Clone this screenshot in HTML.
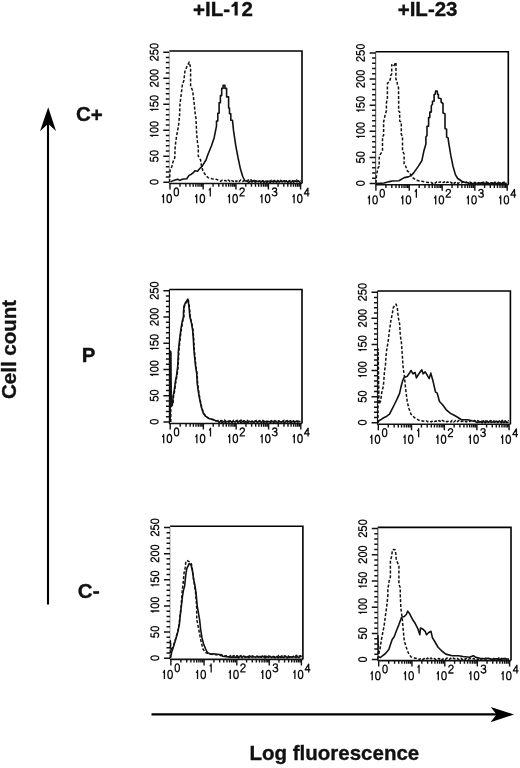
<!DOCTYPE html>
<html><head><meta charset="utf-8"><style>html,body{margin:0;padding:0;background:#fff;width:520px;height:768px;overflow:hidden}svg{display:block;will-change:transform}</style></head>
<body>
<svg width="520" height="768" viewBox="0 0 520 768">
<style>
text{font-family:"Liberation Sans", sans-serif;fill:#111}
.gl{fill:none;stroke:#111;stroke-width:1.32px;stroke-linejoin:round}
.yl{font-size:12.8px;letter-spacing:-0.9px;stroke:#111;stroke-width:0.2px}
.xl{font-size:13.3px;letter-spacing:-1.8px;stroke:#111;stroke-width:0.1px}
.hd{font-size:20.5px;font-weight:bold;stroke:#111;stroke-width:0.35px}
.rl{font-size:20.5px;font-weight:bold;stroke:#111;stroke-width:0.35px}
</style>
<rect width="520" height="768" fill="#fff"/>
<text x="193" y="16" class="hd"><tspan dy="1.3">+</tspan><tspan dy="-1.3">IL-<tspan fill="transparent" stroke="none">1</tspan>2</tspan></text>
<path d="M234.6 1.7H237.7V15.5H234.6V6.1C233.7 6.7 232.6 7.1 231.5 7.3V4.9C232.9 4.5 234 3.4 234.6 1.7Z" fill="#111"/>
<text x="397.7" y="16" class="hd"><tspan dy="1.3">+</tspan><tspan dy="-1.3">IL-23</tspan></text>
<text x="76" y="121" class="rl">C<tspan dy="1.4">+</tspan></text>
<text x="81.8" y="362" class="rl">P</text>
<text x="77.8" y="598.3" class="rl">C</text>
<rect x="93.2" y="591.2" width="5.9" height="2.6" fill="#111"/>
<text transform="translate(15.5,399) rotate(-90)" class="rl">Cell count</text>
<text x="249.5" y="760.3" class="rl">Log fluorescence</text>
<path d="M48 604.5V122" stroke="#000" stroke-width="2.1" fill="none"/>
<path d="M48.2 107.3L56 131L48.2 123.8L40 131.2Z" fill="#000"/>
<path d="M151.5 714.4H498" stroke="#000" stroke-width="2.2" fill="none"/>
<path d="M514 714.5L490.5 722.3L496.5 714.4L490.8 706.9Z" fill="#000"/>
<path d="M169.3 51H302V183.5" fill="none" stroke="#000" stroke-width="1.6"/>
<path d="M169.3 51V184" fill="none" stroke="#b0b0b0" stroke-width="1.2"/>
<path d="M169.3 183.5H302" fill="none" stroke="#111" stroke-width="1.6"/>
<path d="M163.3 182.3H169.3M165.8 177.1H169.3M165.8 171.89H169.3M165.8 166.69H169.3M165.8 161.48H169.3M163.3 156.28H169.3M165.8 151.08H169.3M165.8 145.87H169.3M165.8 140.67H169.3M165.8 135.46H169.3M163.3 130.26H169.3M165.8 125.06H169.3M165.8 119.85H169.3M165.8 114.65H169.3M165.8 109.44H169.3M163.3 104.24H169.3M165.8 99.04H169.3M165.8 93.83H169.3M165.8 88.63H169.3M165.8 83.42H169.3M163.3 78.22H169.3M165.8 73.02H169.3M165.8 67.81H169.3M165.8 62.61H169.3M165.8 57.4H169.3M163.3 52.2H169.3" stroke="#111" stroke-width="1.5"/>
<path d="M170 183.5v6M179.99 183.5v3.2M185.83 183.5v3.2M189.97 183.5v3.2M193.19 183.5v3.2M195.81 183.5v3.2M198.04 183.5v3.2M199.96 183.5v3.2M201.66 183.5v3.2M203.17 183.5v6M213.04 183.5v3.2M218.81 183.5v3.2M222.91 183.5v3.2M226.08 183.5v3.2M228.68 183.5v3.2M230.87 183.5v3.2M232.77 183.5v3.2M234.45 183.5v3.2M235.95 183.5v6M245.73 183.5v3.2M251.44 183.5v3.2M255.5 183.5v3.2M258.65 183.5v3.2M261.22 183.5v3.2M263.39 183.5v3.2M265.28 183.5v3.2M266.94 183.5v3.2M268.42 183.5v6M278.11 183.5v3.2M283.78 183.5v3.2M287.8 183.5v3.2M290.91 183.5v3.2M293.46 183.5v3.2M295.62 183.5v3.2M297.48 183.5v3.2M299.13 183.5v3.2M300.6 183.5v6" stroke="#111" stroke-width="1.4"/>
<g transform="translate(149.7,182.3) rotate(-90)" class="gl"><path transform="translate(-2.93,0) scale(0.955)" d="M3.3 0.62C2.05 0.62 1.1 2.1 1.1 4.65S2.05 8.68 3.3 8.68 5.5 7.2 5.5 4.65 4.55 0.62 3.3 0.62Z"/></g>
<g transform="translate(149.7,156.28) rotate(-90)" class="gl"><path transform="translate(-5.96,0) scale(0.955)" d="M5.1 0.62H1.55L1.05 4.5C1.6 3.9 2.35 3.65 3.05 3.65 4.55 3.65 5.45 4.65 5.45 6.15 5.45 7.7 4.45 8.68 2.95 8.68 1.65 8.68 0.85 8 0.55 6.9"/><path transform="translate(0.1,0) scale(0.955)" d="M3.3 0.62C2.05 0.62 1.1 2.1 1.1 4.65S2.05 8.68 3.3 8.68 5.5 7.2 5.5 4.65 4.55 0.62 3.3 0.62Z"/></g>
<g transform="translate(149.7,130.26) rotate(-90)" class="gl"><path transform="translate(-9,0) scale(0.955)" d="M2.5 2.9C3.4 2.6 4 1.9 4.1 0.65V9.3"/><path transform="translate(-2.93,0) scale(0.955)" d="M3.3 0.62C2.05 0.62 1.1 2.1 1.1 4.65S2.05 8.68 3.3 8.68 5.5 7.2 5.5 4.65 4.55 0.62 3.3 0.62Z"/><path transform="translate(3.13,0) scale(0.955)" d="M3.3 0.62C2.05 0.62 1.1 2.1 1.1 4.65S2.05 8.68 3.3 8.68 5.5 7.2 5.5 4.65 4.55 0.62 3.3 0.62Z"/></g>
<g transform="translate(149.7,104.24) rotate(-90)" class="gl"><path transform="translate(-9,0) scale(0.955)" d="M2.5 2.9C3.4 2.6 4 1.9 4.1 0.65V9.3"/><path transform="translate(-2.93,0) scale(0.955)" d="M5.1 0.62H1.55L1.05 4.5C1.6 3.9 2.35 3.65 3.05 3.65 4.55 3.65 5.45 4.65 5.45 6.15 5.45 7.7 4.45 8.68 2.95 8.68 1.65 8.68 0.85 8 0.55 6.9"/><path transform="translate(3.13,0) scale(0.955)" d="M3.3 0.62C2.05 0.62 1.1 2.1 1.1 4.65S2.05 8.68 3.3 8.68 5.5 7.2 5.5 4.65 4.55 0.62 3.3 0.62Z"/></g>
<g transform="translate(149.7,78.22) rotate(-90)" class="gl"><path transform="translate(-9,0) scale(0.955)" d="M0.95 3C0.95 1.35 1.95 0.62 3.1 0.62 4.4 0.62 5.3 1.5 5.3 2.7 5.3 5 0.95 5.8 0.85 8.68H5.75"/><path transform="translate(-2.93,0) scale(0.955)" d="M3.3 0.62C2.05 0.62 1.1 2.1 1.1 4.65S2.05 8.68 3.3 8.68 5.5 7.2 5.5 4.65 4.55 0.62 3.3 0.62Z"/><path transform="translate(3.13,0) scale(0.955)" d="M3.3 0.62C2.05 0.62 1.1 2.1 1.1 4.65S2.05 8.68 3.3 8.68 5.5 7.2 5.5 4.65 4.55 0.62 3.3 0.62Z"/></g>
<g transform="translate(149.7,52.2) rotate(-90)" class="gl"><path transform="translate(-9,0) scale(0.955)" d="M0.95 3C0.95 1.35 1.95 0.62 3.1 0.62 4.4 0.62 5.3 1.5 5.3 2.7 5.3 5 0.95 5.8 0.85 8.68H5.75"/><path transform="translate(-2.93,0) scale(0.955)" d="M5.1 0.62H1.55L1.05 4.5C1.6 3.9 2.35 3.65 3.05 3.65 4.55 3.65 5.45 4.65 5.45 6.15 5.45 7.7 4.45 8.68 2.95 8.68 1.65 8.68 0.85 8 0.55 6.9"/><path transform="translate(3.13,0) scale(0.955)" d="M3.3 0.62C2.05 0.62 1.1 2.1 1.1 4.65S2.05 8.68 3.3 8.68 5.5 7.2 5.5 4.65 4.55 0.62 3.3 0.62Z"/></g>
<g class="gl"><path transform="translate(159.4,193.9) scale(1.0)" d="M2.5 2.9C3.4 2.6 4 1.9 4.1 0.65V9.3"/><path transform="translate(165.9,193.9) scale(1.0)" d="M3.3 0.62C2.05 0.62 1.1 2.1 1.1 4.65S2.05 8.68 3.3 8.68 5.5 7.2 5.5 4.65 4.55 0.62 3.3 0.62Z"/><path transform="translate(173.1,187.4) scale(0.98)" d="M3.3 0.62C2.05 0.62 1.1 2.1 1.1 4.65S2.05 8.68 3.3 8.68 5.5 7.2 5.5 4.65 4.55 0.62 3.3 0.62Z"/></g>
<g class="gl"><path transform="translate(192.57,193.9) scale(1.0)" d="M2.5 2.9C3.4 2.6 4 1.9 4.1 0.65V9.3"/><path transform="translate(199.07,193.9) scale(1.0)" d="M3.3 0.62C2.05 0.62 1.1 2.1 1.1 4.65S2.05 8.68 3.3 8.68 5.5 7.2 5.5 4.65 4.55 0.62 3.3 0.62Z"/><path transform="translate(206.27,187.4) scale(0.98)" d="M2.5 2.9C3.4 2.6 4 1.9 4.1 0.65V9.3"/></g>
<g class="gl"><path transform="translate(225.35,193.9) scale(1.0)" d="M2.5 2.9C3.4 2.6 4 1.9 4.1 0.65V9.3"/><path transform="translate(231.85,193.9) scale(1.0)" d="M3.3 0.62C2.05 0.62 1.1 2.1 1.1 4.65S2.05 8.68 3.3 8.68 5.5 7.2 5.5 4.65 4.55 0.62 3.3 0.62Z"/><path transform="translate(239.05,187.4) scale(0.98)" d="M0.95 3C0.95 1.35 1.95 0.62 3.1 0.62 4.4 0.62 5.3 1.5 5.3 2.7 5.3 5 0.95 5.8 0.85 8.68H5.75"/></g>
<g class="gl"><path transform="translate(257.82,193.9) scale(1.0)" d="M2.5 2.9C3.4 2.6 4 1.9 4.1 0.65V9.3"/><path transform="translate(264.32,193.9) scale(1.0)" d="M3.3 0.62C2.05 0.62 1.1 2.1 1.1 4.65S2.05 8.68 3.3 8.68 5.5 7.2 5.5 4.65 4.55 0.62 3.3 0.62Z"/><path transform="translate(271.52,187.4) scale(0.98)" d="M0.85 2.55C1.05 1.25 1.95 0.62 3.05 0.62 4.35 0.62 5.15 1.4 5.15 2.5 5.15 3.7 4.25 4.4 2.65 4.4 4.45 4.4 5.45 5.3 5.45 6.6 5.45 8 4.35 8.68 3.05 8.68 1.65 8.68 0.75 8 0.55 6.75"/></g>
<g class="gl"><path transform="translate(290,193.9) scale(1.0)" d="M2.5 2.9C3.4 2.6 4 1.9 4.1 0.65V9.3"/><path transform="translate(296.5,193.9) scale(1.0)" d="M3.3 0.62C2.05 0.62 1.1 2.1 1.1 4.65S2.05 8.68 3.3 8.68 5.5 7.2 5.5 4.65 4.55 0.62 3.3 0.62Z"/><path transform="translate(303.7,187.4) scale(0.98)" d="M4.3 9.3V0.75L0.6 6.6H5.95"/></g>
<path d="M169.6 182 169.8 175 170.2 169.2 171.8 166.9 172.9 162.3 174.8 157.7 175.1 147.7 176 140 177 133.8 178.5 125.8 179.6 115 180 103.8 181.2 94.4 182.5 83.6 183.8 81 184.9 71.5 186.5 67.5 189.2 62.1 190.6 67.5 190.6 86.3 192.6 90.4 193.9 101.1 195.3 114.6 196 118.6 196.6 132.5 197.2 140 198.3 147.7 198.3 156.2 200.6 160 201.4 165.4 202.9 170.8 205.2 174.6 208 177.6 212 178.8 216.1 179.3 219 180.4 220.6 181.3 222.3 180.2 223.5 181 225.4 180.4 226.8 181.7 228.4 180 229.9 181.4 231.2 180.2 233.2 181.4 235 180.1 236.2 181.5 237.9 180.4 239 181.6 240.6 180.1 242.5 181.5 244.6 180.3 246.4 181.3 248.5 180 249.7 181.1 251 179.9 252.5 181.4 253.9 180.2 255.4 181.2 257.1 180.2 259.1 181.5 261.1 180 263.2 181.5 264.5 180 266.5 181.6 268.2 180.1 269.5 181.6 271.2 180.4 272.4 181.6 274.4 180.5 276.3 181.3 277.6 180.4 279.4 181.6 280.6 180.2 281.8 181.5 283.2 180 285.3 181.4 287.3 180.4 288.5 181.4 289.7 180.5 291.2 181.4 292.5 180.6 294.4 181.2 296.5 180 297.9 181.3 299.6 180.1 300.5 180.8" fill="none" stroke="#111" stroke-width="1.5" stroke-dasharray="3 1.8" stroke-linejoin="round"/>
<path d="M170.6 181.9 173.7 180.4 177.5 179.2 179.8 180.4 182.2 179.2 186.8 178.8 189 175.4 191.4 174.2 193.7 172.3 194.8 170.8 197.5 171.2 199.8 168.5 202.2 166.2 204.5 162.3 206 160 208.1 154 211.4 146 214.1 137.9 216.5 126.2 216.5 121 217.8 121 217.8 113.2 219.1 113.2 219.1 102.7 220.4 102.7 220.4 95.6 221.7 95.6 221.7 88.4 223.1 88.4 223.1 85.2 224.9 85.2 224.9 88.4 226.6 88.4 226.6 96.9 228.6 96.9 228.6 108 229.5 108 229.5 113.8 230.8 113.8 230.8 120.3 232.5 120.3 233.5 130.4 235.8 145.8 238.1 158 240.4 168.8 242.7 176.5 245 181 247 181 248.7 182.5 250.3 181.1 252.1 182 253.5 180.7 255.2 182.2 256.3 181.1 258 181.8 259.7 181 260.9 182.2 262.4 180.9 263.9 182.3 265.7 181.4 266.9 182.3 268.9 181.2 270.5 182.2 271.9 181.1 273.3 182.1 275 181.2 276.5 182.3 277.7 181 279.5 182 280.8 180.8 282.2 181.9 283.7 180.9 284.9 182 286.4 180.8 287.9 182.4 289.2 181.2 290.9 182.4 292.5 181.2 293.7 182.2 295 180.8 297 181.9 298.3 180.8 300.1 182.4 300.5 181.6" fill="none" stroke="#111" stroke-width="1.6" stroke-linejoin="round"/>
<path d="M375.6 51.7H508.3V184.8" fill="none" stroke="#000" stroke-width="1.6"/>
<path d="M375.6 51.7V185.3" fill="none" stroke="#666" stroke-width="1.2"/>
<path d="M375.6 184.8H508.3" fill="none" stroke="#111" stroke-width="1.6"/>
<path d="M369.6 183.5H375.6M372.1 178.28H375.6M372.1 173.05H375.6M372.1 167.83H375.6M372.1 162.6H375.6M369.6 157.38H375.6M372.1 152.16H375.6M372.1 146.93H375.6M372.1 141.71H375.6M372.1 136.48H375.6M369.6 131.26H375.6M372.1 126.04H375.6M372.1 120.81H375.6M372.1 115.59H375.6M372.1 110.36H375.6M369.6 105.14H375.6M372.1 99.92H375.6M372.1 94.69H375.6M372.1 89.47H375.6M372.1 84.24H375.6M369.6 79.02H375.6M372.1 73.8H375.6M372.1 68.57H375.6M372.1 63.35H375.6M372.1 58.12H375.6M369.6 52.9H375.6" stroke="#111" stroke-width="1.5"/>
<path d="M375.9 184.8v6M385.94 184.8v3.2M391.81 184.8v3.2M395.98 184.8v3.2M399.21 184.8v3.2M401.85 184.8v3.2M404.09 184.8v3.2M406.02 184.8v3.2M407.73 184.8v3.2M409.25 184.8v6M419.17 184.8v3.2M424.97 184.8v3.2M429.09 184.8v3.2M432.28 184.8v3.2M434.89 184.8v3.2M437.1 184.8v3.2M439.01 184.8v3.2M440.7 184.8v3.2M442.2 184.8v6M452.03 184.8v3.2M457.78 184.8v3.2M461.86 184.8v3.2M465.02 184.8v3.2M467.61 184.8v3.2M469.79 184.8v3.2M471.69 184.8v3.2M473.36 184.8v3.2M474.85 184.8v6M484.59 184.8v3.2M490.29 184.8v3.2M494.33 184.8v3.2M497.46 184.8v3.2M500.02 184.8v3.2M502.19 184.8v3.2M504.07 184.8v3.2M505.72 184.8v3.2M507.2 184.8v6" stroke="#111" stroke-width="1.4"/>
<g transform="translate(356,183.5) rotate(-90)" class="gl"><path transform="translate(-2.93,0) scale(0.955)" d="M3.3 0.62C2.05 0.62 1.1 2.1 1.1 4.65S2.05 8.68 3.3 8.68 5.5 7.2 5.5 4.65 4.55 0.62 3.3 0.62Z"/></g>
<g transform="translate(356,157.38) rotate(-90)" class="gl"><path transform="translate(-5.96,0) scale(0.955)" d="M5.1 0.62H1.55L1.05 4.5C1.6 3.9 2.35 3.65 3.05 3.65 4.55 3.65 5.45 4.65 5.45 6.15 5.45 7.7 4.45 8.68 2.95 8.68 1.65 8.68 0.85 8 0.55 6.9"/><path transform="translate(0.1,0) scale(0.955)" d="M3.3 0.62C2.05 0.62 1.1 2.1 1.1 4.65S2.05 8.68 3.3 8.68 5.5 7.2 5.5 4.65 4.55 0.62 3.3 0.62Z"/></g>
<g transform="translate(356,131.26) rotate(-90)" class="gl"><path transform="translate(-9,0) scale(0.955)" d="M2.5 2.9C3.4 2.6 4 1.9 4.1 0.65V9.3"/><path transform="translate(-2.93,0) scale(0.955)" d="M3.3 0.62C2.05 0.62 1.1 2.1 1.1 4.65S2.05 8.68 3.3 8.68 5.5 7.2 5.5 4.65 4.55 0.62 3.3 0.62Z"/><path transform="translate(3.13,0) scale(0.955)" d="M3.3 0.62C2.05 0.62 1.1 2.1 1.1 4.65S2.05 8.68 3.3 8.68 5.5 7.2 5.5 4.65 4.55 0.62 3.3 0.62Z"/></g>
<g transform="translate(356,105.14) rotate(-90)" class="gl"><path transform="translate(-9,0) scale(0.955)" d="M2.5 2.9C3.4 2.6 4 1.9 4.1 0.65V9.3"/><path transform="translate(-2.93,0) scale(0.955)" d="M5.1 0.62H1.55L1.05 4.5C1.6 3.9 2.35 3.65 3.05 3.65 4.55 3.65 5.45 4.65 5.45 6.15 5.45 7.7 4.45 8.68 2.95 8.68 1.65 8.68 0.85 8 0.55 6.9"/><path transform="translate(3.13,0) scale(0.955)" d="M3.3 0.62C2.05 0.62 1.1 2.1 1.1 4.65S2.05 8.68 3.3 8.68 5.5 7.2 5.5 4.65 4.55 0.62 3.3 0.62Z"/></g>
<g transform="translate(356,79.02) rotate(-90)" class="gl"><path transform="translate(-9,0) scale(0.955)" d="M0.95 3C0.95 1.35 1.95 0.62 3.1 0.62 4.4 0.62 5.3 1.5 5.3 2.7 5.3 5 0.95 5.8 0.85 8.68H5.75"/><path transform="translate(-2.93,0) scale(0.955)" d="M3.3 0.62C2.05 0.62 1.1 2.1 1.1 4.65S2.05 8.68 3.3 8.68 5.5 7.2 5.5 4.65 4.55 0.62 3.3 0.62Z"/><path transform="translate(3.13,0) scale(0.955)" d="M3.3 0.62C2.05 0.62 1.1 2.1 1.1 4.65S2.05 8.68 3.3 8.68 5.5 7.2 5.5 4.65 4.55 0.62 3.3 0.62Z"/></g>
<g transform="translate(356,52.9) rotate(-90)" class="gl"><path transform="translate(-9,0) scale(0.955)" d="M0.95 3C0.95 1.35 1.95 0.62 3.1 0.62 4.4 0.62 5.3 1.5 5.3 2.7 5.3 5 0.95 5.8 0.85 8.68H5.75"/><path transform="translate(-2.93,0) scale(0.955)" d="M5.1 0.62H1.55L1.05 4.5C1.6 3.9 2.35 3.65 3.05 3.65 4.55 3.65 5.45 4.65 5.45 6.15 5.45 7.7 4.45 8.68 2.95 8.68 1.65 8.68 0.85 8 0.55 6.9"/><path transform="translate(3.13,0) scale(0.955)" d="M3.3 0.62C2.05 0.62 1.1 2.1 1.1 4.65S2.05 8.68 3.3 8.68 5.5 7.2 5.5 4.65 4.55 0.62 3.3 0.62Z"/></g>
<g class="gl"><path transform="translate(365.3,195.2) scale(1.0)" d="M2.5 2.9C3.4 2.6 4 1.9 4.1 0.65V9.3"/><path transform="translate(371.8,195.2) scale(1.0)" d="M3.3 0.62C2.05 0.62 1.1 2.1 1.1 4.65S2.05 8.68 3.3 8.68 5.5 7.2 5.5 4.65 4.55 0.62 3.3 0.62Z"/><path transform="translate(379,188.7) scale(0.98)" d="M3.3 0.62C2.05 0.62 1.1 2.1 1.1 4.65S2.05 8.68 3.3 8.68 5.5 7.2 5.5 4.65 4.55 0.62 3.3 0.62Z"/></g>
<g class="gl"><path transform="translate(398.65,195.2) scale(1.0)" d="M2.5 2.9C3.4 2.6 4 1.9 4.1 0.65V9.3"/><path transform="translate(405.15,195.2) scale(1.0)" d="M3.3 0.62C2.05 0.62 1.1 2.1 1.1 4.65S2.05 8.68 3.3 8.68 5.5 7.2 5.5 4.65 4.55 0.62 3.3 0.62Z"/><path transform="translate(412.35,188.7) scale(0.98)" d="M2.5 2.9C3.4 2.6 4 1.9 4.1 0.65V9.3"/></g>
<g class="gl"><path transform="translate(431.6,195.2) scale(1.0)" d="M2.5 2.9C3.4 2.6 4 1.9 4.1 0.65V9.3"/><path transform="translate(438.1,195.2) scale(1.0)" d="M3.3 0.62C2.05 0.62 1.1 2.1 1.1 4.65S2.05 8.68 3.3 8.68 5.5 7.2 5.5 4.65 4.55 0.62 3.3 0.62Z"/><path transform="translate(445.3,188.7) scale(0.98)" d="M0.95 3C0.95 1.35 1.95 0.62 3.1 0.62 4.4 0.62 5.3 1.5 5.3 2.7 5.3 5 0.95 5.8 0.85 8.68H5.75"/></g>
<g class="gl"><path transform="translate(464.25,195.2) scale(1.0)" d="M2.5 2.9C3.4 2.6 4 1.9 4.1 0.65V9.3"/><path transform="translate(470.75,195.2) scale(1.0)" d="M3.3 0.62C2.05 0.62 1.1 2.1 1.1 4.65S2.05 8.68 3.3 8.68 5.5 7.2 5.5 4.65 4.55 0.62 3.3 0.62Z"/><path transform="translate(477.95,188.7) scale(0.98)" d="M0.85 2.55C1.05 1.25 1.95 0.62 3.05 0.62 4.35 0.62 5.15 1.4 5.15 2.5 5.15 3.7 4.25 4.4 2.65 4.4 4.45 4.4 5.45 5.3 5.45 6.6 5.45 8 4.35 8.68 3.05 8.68 1.65 8.68 0.75 8 0.55 6.75"/></g>
<g class="gl"><path transform="translate(496.6,195.2) scale(1.0)" d="M2.5 2.9C3.4 2.6 4 1.9 4.1 0.65V9.3"/><path transform="translate(503.1,195.2) scale(1.0)" d="M3.3 0.62C2.05 0.62 1.1 2.1 1.1 4.65S2.05 8.68 3.3 8.68 5.5 7.2 5.5 4.65 4.55 0.62 3.3 0.62Z"/><path transform="translate(510.3,188.7) scale(0.98)" d="M4.3 9.3V0.75L0.6 6.6H5.95"/></g>
<path d="M376 183 376.5 175 378.1 167.6 379.2 166.4 379.2 157.6 380.3 154.3 382.5 151 382.5 136.5 383.6 135.4 383.6 122 385.3 114.4 386.4 111 386.4 103 387.4 98 387.4 83.6 389.1 81.7 390.4 79 390.6 75.8 391.7 73.9 391.7 64.8 393.5 66.5 394.6 64.5 396 62.5 396 64.8 395.9 79.1 397.2 81 397.3 84.3 398.5 87.6 398.7 105 398.6 111 399.7 112 399.7 121 401.3 122 401.3 134.3 402.5 136.5 402.5 151 404.1 154 404.1 164 405.8 166.4 407.4 170.9 409.7 173.1 412.4 177.6 416.4 180.3 423.1 181.6 428.5 182.6 431 182.3 432.4 183.4 433.8 182.2 435.3 183.1 436.8 181.8 438.1 182.8 440.1 181.8 442.2 183.1 444.2 181.8 445.5 183.3 447.5 181.9 449.1 183 450.5 182.2 451.7 183.2 453.1 181.8 454.3 183.4 456.1 181.8 458 183.4 459.7 182.4 461.6 182.9 463 181.9 464.6 183.1 466.6 182 468.1 183 470 182.1 471.9 183 473.2 182 475.1 182.9 477 181.8 478.9 183.4 480 182 481.9 182.8 483.3 182.2 484.9 183.1 486.5 181.9 487.6 182.8 488.9 182.3 490.1 183.5 492 182.3 493.6 183 495 182.2 496.8 183.2 498.2 182.3 499.7 182.9 501.3 181.9 502.8 182.9 504.1 182.1 505.8 183.3 506.5 182.6" fill="none" stroke="#111" stroke-width="1.5" stroke-dasharray="3 1.8" stroke-linejoin="round"/>
<path d="M376 183.6 384.1 183 389.5 181.6 392.2 181 398.9 180.7 404.3 177.6 408.3 176.9 411 175.6 413.7 172.9 418.4 166.1 421.8 160.8 423.8 151.3 425.9 144 425.9 137 427 135.6 427 126.2 428.6 126.2 428.6 117.6 429.8 117.6 429.8 112.1 431.3 112.1 431.3 105.9 432.5 104 432.5 101.2 434.1 101.2 434.1 94.5 435.2 94.2 435.6 91 437.2 91 437.6 94.2 438.4 94.5 438.4 98.1 441.1 98.8 441.1 102 443 103.5 443 112.9 445 113.7 445 128.5 446.6 129.3 446.6 137 448.1 137.9 448.5 141.5 450.8 155.4 453 166.2 455.4 174.6 457.7 178.5 462.3 181.5 465.4 182.6 468 182.7 469.7 184 471.2 183 473 184 474.8 183 476.1 184.1 477.9 183.2 479.4 184 481.4 182.6 482.9 184.3 484.8 183.1 486.3 183.8 488.2 182.8 490.2 184.3 492 182.8 493.6 183.8 495.3 183.3 496.6 184.2 497.7 183.2 499 184.3 500.2 183.3 502.2 183.8 504.1 182.8 506 184.4 506.5 183.5" fill="none" stroke="#111" stroke-width="1.6" stroke-linejoin="round"/>
<path d="M169.4 289.5H302V423.5" fill="none" stroke="#000" stroke-width="1.6"/>
<path d="M169.4 289.5V424" fill="none" stroke="#111" stroke-width="1.2"/>
<path d="M169.4 423.5H302" fill="none" stroke="#111" stroke-width="1.6"/>
<path d="M163.4 421.9H169.4M165.9 416.65H169.4M165.9 411.4H169.4M165.9 406.16H169.4M165.9 400.91H169.4M163.4 395.66H169.4M165.9 390.41H169.4M165.9 385.16H169.4M165.9 379.92H169.4M165.9 374.67H169.4M163.4 369.42H169.4M165.9 364.17H169.4M165.9 358.92H169.4M165.9 353.68H169.4M165.9 348.43H169.4M163.4 343.18H169.4M165.9 337.93H169.4M165.9 332.68H169.4M165.9 327.44H169.4M165.9 322.19H169.4M163.4 316.94H169.4M165.9 311.69H169.4M165.9 306.44H169.4M165.9 301.2H169.4M165.9 295.95H169.4M163.4 290.7H169.4" stroke="#111" stroke-width="1.5"/>
<path d="M170.2 423.5v6M180.19 423.5v3.2M186.03 423.5v3.2M190.17 423.5v3.2M193.39 423.5v3.2M196.01 423.5v3.2M198.24 423.5v3.2M200.16 423.5v3.2M201.86 423.5v3.2M203.37 423.5v6M213.24 423.5v3.2M219.01 423.5v3.2M223.11 423.5v3.2M226.28 423.5v3.2M228.88 423.5v3.2M231.07 423.5v3.2M232.97 423.5v3.2M234.65 423.5v3.2M236.15 423.5v6M245.93 423.5v3.2M251.64 423.5v3.2M255.7 423.5v3.2M258.85 423.5v3.2M261.42 423.5v3.2M263.59 423.5v3.2M265.48 423.5v3.2M267.14 423.5v3.2M268.62 423.5v6M278.31 423.5v3.2M283.98 423.5v3.2M288 423.5v3.2M291.11 423.5v3.2M293.66 423.5v3.2M295.82 423.5v3.2M297.68 423.5v3.2M299.33 423.5v3.2M300.8 423.5v6" stroke="#111" stroke-width="1.4"/>
<g transform="translate(149.8,421.9) rotate(-90)" class="gl"><path transform="translate(-2.93,0) scale(0.955)" d="M3.3 0.62C2.05 0.62 1.1 2.1 1.1 4.65S2.05 8.68 3.3 8.68 5.5 7.2 5.5 4.65 4.55 0.62 3.3 0.62Z"/></g>
<g transform="translate(149.8,395.66) rotate(-90)" class="gl"><path transform="translate(-5.96,0) scale(0.955)" d="M5.1 0.62H1.55L1.05 4.5C1.6 3.9 2.35 3.65 3.05 3.65 4.55 3.65 5.45 4.65 5.45 6.15 5.45 7.7 4.45 8.68 2.95 8.68 1.65 8.68 0.85 8 0.55 6.9"/><path transform="translate(0.1,0) scale(0.955)" d="M3.3 0.62C2.05 0.62 1.1 2.1 1.1 4.65S2.05 8.68 3.3 8.68 5.5 7.2 5.5 4.65 4.55 0.62 3.3 0.62Z"/></g>
<g transform="translate(149.8,369.42) rotate(-90)" class="gl"><path transform="translate(-9,0) scale(0.955)" d="M2.5 2.9C3.4 2.6 4 1.9 4.1 0.65V9.3"/><path transform="translate(-2.93,0) scale(0.955)" d="M3.3 0.62C2.05 0.62 1.1 2.1 1.1 4.65S2.05 8.68 3.3 8.68 5.5 7.2 5.5 4.65 4.55 0.62 3.3 0.62Z"/><path transform="translate(3.13,0) scale(0.955)" d="M3.3 0.62C2.05 0.62 1.1 2.1 1.1 4.65S2.05 8.68 3.3 8.68 5.5 7.2 5.5 4.65 4.55 0.62 3.3 0.62Z"/></g>
<g transform="translate(149.8,343.18) rotate(-90)" class="gl"><path transform="translate(-9,0) scale(0.955)" d="M2.5 2.9C3.4 2.6 4 1.9 4.1 0.65V9.3"/><path transform="translate(-2.93,0) scale(0.955)" d="M5.1 0.62H1.55L1.05 4.5C1.6 3.9 2.35 3.65 3.05 3.65 4.55 3.65 5.45 4.65 5.45 6.15 5.45 7.7 4.45 8.68 2.95 8.68 1.65 8.68 0.85 8 0.55 6.9"/><path transform="translate(3.13,0) scale(0.955)" d="M3.3 0.62C2.05 0.62 1.1 2.1 1.1 4.65S2.05 8.68 3.3 8.68 5.5 7.2 5.5 4.65 4.55 0.62 3.3 0.62Z"/></g>
<g transform="translate(149.8,316.94) rotate(-90)" class="gl"><path transform="translate(-9,0) scale(0.955)" d="M0.95 3C0.95 1.35 1.95 0.62 3.1 0.62 4.4 0.62 5.3 1.5 5.3 2.7 5.3 5 0.95 5.8 0.85 8.68H5.75"/><path transform="translate(-2.93,0) scale(0.955)" d="M3.3 0.62C2.05 0.62 1.1 2.1 1.1 4.65S2.05 8.68 3.3 8.68 5.5 7.2 5.5 4.65 4.55 0.62 3.3 0.62Z"/><path transform="translate(3.13,0) scale(0.955)" d="M3.3 0.62C2.05 0.62 1.1 2.1 1.1 4.65S2.05 8.68 3.3 8.68 5.5 7.2 5.5 4.65 4.55 0.62 3.3 0.62Z"/></g>
<g transform="translate(149.8,290.7) rotate(-90)" class="gl"><path transform="translate(-9,0) scale(0.955)" d="M0.95 3C0.95 1.35 1.95 0.62 3.1 0.62 4.4 0.62 5.3 1.5 5.3 2.7 5.3 5 0.95 5.8 0.85 8.68H5.75"/><path transform="translate(-2.93,0) scale(0.955)" d="M5.1 0.62H1.55L1.05 4.5C1.6 3.9 2.35 3.65 3.05 3.65 4.55 3.65 5.45 4.65 5.45 6.15 5.45 7.7 4.45 8.68 2.95 8.68 1.65 8.68 0.85 8 0.55 6.9"/><path transform="translate(3.13,0) scale(0.955)" d="M3.3 0.62C2.05 0.62 1.1 2.1 1.1 4.65S2.05 8.68 3.3 8.68 5.5 7.2 5.5 4.65 4.55 0.62 3.3 0.62Z"/></g>
<g class="gl"><path transform="translate(159.6,433.9) scale(1.0)" d="M2.5 2.9C3.4 2.6 4 1.9 4.1 0.65V9.3"/><path transform="translate(166.1,433.9) scale(1.0)" d="M3.3 0.62C2.05 0.62 1.1 2.1 1.1 4.65S2.05 8.68 3.3 8.68 5.5 7.2 5.5 4.65 4.55 0.62 3.3 0.62Z"/><path transform="translate(173.3,427.4) scale(0.98)" d="M3.3 0.62C2.05 0.62 1.1 2.1 1.1 4.65S2.05 8.68 3.3 8.68 5.5 7.2 5.5 4.65 4.55 0.62 3.3 0.62Z"/></g>
<g class="gl"><path transform="translate(192.77,433.9) scale(1.0)" d="M2.5 2.9C3.4 2.6 4 1.9 4.1 0.65V9.3"/><path transform="translate(199.27,433.9) scale(1.0)" d="M3.3 0.62C2.05 0.62 1.1 2.1 1.1 4.65S2.05 8.68 3.3 8.68 5.5 7.2 5.5 4.65 4.55 0.62 3.3 0.62Z"/><path transform="translate(206.47,427.4) scale(0.98)" d="M2.5 2.9C3.4 2.6 4 1.9 4.1 0.65V9.3"/></g>
<g class="gl"><path transform="translate(225.55,433.9) scale(1.0)" d="M2.5 2.9C3.4 2.6 4 1.9 4.1 0.65V9.3"/><path transform="translate(232.05,433.9) scale(1.0)" d="M3.3 0.62C2.05 0.62 1.1 2.1 1.1 4.65S2.05 8.68 3.3 8.68 5.5 7.2 5.5 4.65 4.55 0.62 3.3 0.62Z"/><path transform="translate(239.25,427.4) scale(0.98)" d="M0.95 3C0.95 1.35 1.95 0.62 3.1 0.62 4.4 0.62 5.3 1.5 5.3 2.7 5.3 5 0.95 5.8 0.85 8.68H5.75"/></g>
<g class="gl"><path transform="translate(258.02,433.9) scale(1.0)" d="M2.5 2.9C3.4 2.6 4 1.9 4.1 0.65V9.3"/><path transform="translate(264.52,433.9) scale(1.0)" d="M3.3 0.62C2.05 0.62 1.1 2.1 1.1 4.65S2.05 8.68 3.3 8.68 5.5 7.2 5.5 4.65 4.55 0.62 3.3 0.62Z"/><path transform="translate(271.72,427.4) scale(0.98)" d="M0.85 2.55C1.05 1.25 1.95 0.62 3.05 0.62 4.35 0.62 5.15 1.4 5.15 2.5 5.15 3.7 4.25 4.4 2.65 4.4 4.45 4.4 5.45 5.3 5.45 6.6 5.45 8 4.35 8.68 3.05 8.68 1.65 8.68 0.75 8 0.55 6.75"/></g>
<g class="gl"><path transform="translate(290.2,433.9) scale(1.0)" d="M2.5 2.9C3.4 2.6 4 1.9 4.1 0.65V9.3"/><path transform="translate(296.7,433.9) scale(1.0)" d="M3.3 0.62C2.05 0.62 1.1 2.1 1.1 4.65S2.05 8.68 3.3 8.68 5.5 7.2 5.5 4.65 4.55 0.62 3.3 0.62Z"/><path transform="translate(303.9,427.4) scale(0.98)" d="M4.3 9.3V0.75L0.6 6.6H5.95"/></g>
<path d="M170.8 421.9 170.9 382 171.8 406 172.9 404.3 173.5 396.8 174.6 391.1 175.8 381.8 176.9 376.1 178.1 366.8 178.7 355.3 178.7 352.6 179.5 344.5 180.4 336.4 181.5 328.3 182.7 321.4 183.9 316.8 183.9 312.2 184.4 306.4 185.6 303.6 188.2 299.5 189 304.1 189.6 308.8 190.2 316.8 191.9 323.7 193.1 330.7 193.7 338.7 194.2 348 194.8 355.3 196 366.8 197.1 373.8 197.7 384.1 198.8 392.2 200 399.1 201.7 407.2 203.5 413 205.8 416.4 209.2 418.7 213.8 419.9 216.1 421.1 218 420.4 219.8 421.2 221.2 420.5 222.8 421.3 224.5 420.1 226 421.6 227.2 420.6 229 421.3 230.9 420.2 232.2 421.9 233.6 420.3 235.5 421.4 237.2 420.3 239.1 421.4 241 420.1 242.8 421.6 244 420.5 245.4 421.7 247.2 420.4 248.5 421.7 250.2 420.7 252.2 421.7 253.4 420.1 254.7 421.4 256.5 420.4 258.2 421.7 259.7 420.6 261 421.2 262.8 420.3 264.5 421.7 265.9 420.6 267.4 421.8 268.6 420.4 269.9 421.7 271.4 420.6 272.9 421.6 274.8 420.6 276.7 421.3 278.1 420.7 279.3 421.7 281.1 420.7 282.4 421.5 284.3 420.2 286.1 421.6 287.4 420.5 288.7 421.6 290.3 420.7 291.7 421.7 292.8 420.2 294.8 421.9 296.3 420.4 298 421.6 300 420.3 300.5 421" fill="none" stroke="#111" stroke-width="1.5" stroke-dasharray="3 1.8" stroke-linejoin="round"/>
<path d="M170.2 421.9 170.2 351 170.9 352 171.2 405 172.5 404 173.1 396.5 174.2 390.8 175.4 381.5 176.5 375.8 177.7 366.5 178.3 355 178.3 352.3 179.1 344.2 180 336.1 181.1 328 182.3 321.1 183.5 316.5 183.5 311.9 184 306.1 185.2 303.3 187.8 299.2 188.6 303.8 189.2 308.5 189.8 316.5 191.5 323.4 192.7 330.4 193.3 338.4 193.8 347.7 194.4 355 195.6 366.5 196.7 373.5 197.3 383.8 198.4 391.9 199.6 398.8 201.3 406.9 203.1 412.7 205.4 416.1 208.8 418.4 213.4 419.6 215.7 420.8 218 421 219.2 422.5 220.8 421.1 222 422.5 224 421.6 225.4 422.4 227.4 421.4 228.6 422.2 230.4 421.1 231.9 422.3 233.4 421.4 234.9 422.1 236.5 420.9 238 422.5 239.3 421.1 241.1 422.5 242.7 421.3 244.5 422.6 245.7 421.5 247.6 422.6 249.2 421.3 251 422.1 252.4 421.5 254.1 422.2 255.4 421.1 257.4 422.2 259.2 421.3 261.2 422.4 262.5 421.4 263.7 422.3 265.2 421.5 266.6 422.2 268.5 421.5 270.6 422.3 272.3 421.3 274.2 422.6 275.8 421.3 277.7 422.6 279.2 421.1 281.2 422.3 282.5 421.4 284.4 422.5 286.4 421 287.7 422.1 289.1 421.5 290.9 422.6 292.9 421.4 294.8 422.2 296.4 421.1 297.6 422.1 299.5 421.4 300.5 421.8" fill="none" stroke="#111" stroke-width="1.6" stroke-linejoin="round"/>
<path d="M377.5 291H510.4V424.2" fill="none" stroke="#000" stroke-width="1.6"/>
<path d="M377.5 291V424.7" fill="none" stroke="#222" stroke-width="1.2"/>
<path d="M377.5 424.2H510.4" fill="none" stroke="#111" stroke-width="1.6"/>
<path d="M371.5 422.8H377.5M374 417.58H377.5M374 412.35H377.5M374 407.13H377.5M374 401.9H377.5M371.5 396.68H377.5M374 391.46H377.5M374 386.23H377.5M374 381.01H377.5M374 375.78H377.5M371.5 370.56H377.5M374 365.34H377.5M374 360.11H377.5M374 354.89H377.5M374 349.66H377.5M371.5 344.44H377.5M374 339.22H377.5M374 333.99H377.5M374 328.77H377.5M374 323.54H377.5M371.5 318.32H377.5M374 313.1H377.5M374 307.87H377.5M374 302.65H377.5M374 297.42H377.5M371.5 292.2H377.5" stroke="#111" stroke-width="1.5"/>
<path d="M378.3 424.2v6M388.3 424.2v3.2M394.15 424.2v3.2M398.3 424.2v3.2M401.52 424.2v3.2M404.15 424.2v3.2M406.38 424.2v3.2M408.31 424.2v3.2M410.01 424.2v3.2M411.53 424.2v6M421.41 424.2v3.2M427.19 424.2v3.2M431.29 424.2v3.2M434.47 424.2v3.2M437.07 424.2v3.2M439.27 424.2v3.2M441.17 424.2v3.2M442.85 424.2v3.2M444.35 424.2v6M454.14 424.2v3.2M459.87 424.2v3.2M463.93 424.2v3.2M467.08 424.2v3.2M469.66 424.2v3.2M471.84 424.2v3.2M473.72 424.2v3.2M475.39 424.2v3.2M476.88 424.2v6M486.58 424.2v3.2M492.25 424.2v3.2M496.28 424.2v3.2M499.4 424.2v3.2M501.95 424.2v3.2M504.11 424.2v3.2M505.98 424.2v3.2M507.63 424.2v3.2M509.1 424.2v6" stroke="#111" stroke-width="1.4"/>
<g transform="translate(357.9,422.8) rotate(-90)" class="gl"><path transform="translate(-2.93,0) scale(0.955)" d="M3.3 0.62C2.05 0.62 1.1 2.1 1.1 4.65S2.05 8.68 3.3 8.68 5.5 7.2 5.5 4.65 4.55 0.62 3.3 0.62Z"/></g>
<g transform="translate(357.9,396.68) rotate(-90)" class="gl"><path transform="translate(-5.96,0) scale(0.955)" d="M5.1 0.62H1.55L1.05 4.5C1.6 3.9 2.35 3.65 3.05 3.65 4.55 3.65 5.45 4.65 5.45 6.15 5.45 7.7 4.45 8.68 2.95 8.68 1.65 8.68 0.85 8 0.55 6.9"/><path transform="translate(0.1,0) scale(0.955)" d="M3.3 0.62C2.05 0.62 1.1 2.1 1.1 4.65S2.05 8.68 3.3 8.68 5.5 7.2 5.5 4.65 4.55 0.62 3.3 0.62Z"/></g>
<g transform="translate(357.9,370.56) rotate(-90)" class="gl"><path transform="translate(-9,0) scale(0.955)" d="M2.5 2.9C3.4 2.6 4 1.9 4.1 0.65V9.3"/><path transform="translate(-2.93,0) scale(0.955)" d="M3.3 0.62C2.05 0.62 1.1 2.1 1.1 4.65S2.05 8.68 3.3 8.68 5.5 7.2 5.5 4.65 4.55 0.62 3.3 0.62Z"/><path transform="translate(3.13,0) scale(0.955)" d="M3.3 0.62C2.05 0.62 1.1 2.1 1.1 4.65S2.05 8.68 3.3 8.68 5.5 7.2 5.5 4.65 4.55 0.62 3.3 0.62Z"/></g>
<g transform="translate(357.9,344.44) rotate(-90)" class="gl"><path transform="translate(-9,0) scale(0.955)" d="M2.5 2.9C3.4 2.6 4 1.9 4.1 0.65V9.3"/><path transform="translate(-2.93,0) scale(0.955)" d="M5.1 0.62H1.55L1.05 4.5C1.6 3.9 2.35 3.65 3.05 3.65 4.55 3.65 5.45 4.65 5.45 6.15 5.45 7.7 4.45 8.68 2.95 8.68 1.65 8.68 0.85 8 0.55 6.9"/><path transform="translate(3.13,0) scale(0.955)" d="M3.3 0.62C2.05 0.62 1.1 2.1 1.1 4.65S2.05 8.68 3.3 8.68 5.5 7.2 5.5 4.65 4.55 0.62 3.3 0.62Z"/></g>
<g transform="translate(357.9,318.32) rotate(-90)" class="gl"><path transform="translate(-9,0) scale(0.955)" d="M0.95 3C0.95 1.35 1.95 0.62 3.1 0.62 4.4 0.62 5.3 1.5 5.3 2.7 5.3 5 0.95 5.8 0.85 8.68H5.75"/><path transform="translate(-2.93,0) scale(0.955)" d="M3.3 0.62C2.05 0.62 1.1 2.1 1.1 4.65S2.05 8.68 3.3 8.68 5.5 7.2 5.5 4.65 4.55 0.62 3.3 0.62Z"/><path transform="translate(3.13,0) scale(0.955)" d="M3.3 0.62C2.05 0.62 1.1 2.1 1.1 4.65S2.05 8.68 3.3 8.68 5.5 7.2 5.5 4.65 4.55 0.62 3.3 0.62Z"/></g>
<g transform="translate(357.9,292.2) rotate(-90)" class="gl"><path transform="translate(-9,0) scale(0.955)" d="M0.95 3C0.95 1.35 1.95 0.62 3.1 0.62 4.4 0.62 5.3 1.5 5.3 2.7 5.3 5 0.95 5.8 0.85 8.68H5.75"/><path transform="translate(-2.93,0) scale(0.955)" d="M5.1 0.62H1.55L1.05 4.5C1.6 3.9 2.35 3.65 3.05 3.65 4.55 3.65 5.45 4.65 5.45 6.15 5.45 7.7 4.45 8.68 2.95 8.68 1.65 8.68 0.85 8 0.55 6.9"/><path transform="translate(3.13,0) scale(0.955)" d="M3.3 0.62C2.05 0.62 1.1 2.1 1.1 4.65S2.05 8.68 3.3 8.68 5.5 7.2 5.5 4.65 4.55 0.62 3.3 0.62Z"/></g>
<g class="gl"><path transform="translate(367.7,434.6) scale(1.0)" d="M2.5 2.9C3.4 2.6 4 1.9 4.1 0.65V9.3"/><path transform="translate(374.2,434.6) scale(1.0)" d="M3.3 0.62C2.05 0.62 1.1 2.1 1.1 4.65S2.05 8.68 3.3 8.68 5.5 7.2 5.5 4.65 4.55 0.62 3.3 0.62Z"/><path transform="translate(381.4,428.1) scale(0.98)" d="M3.3 0.62C2.05 0.62 1.1 2.1 1.1 4.65S2.05 8.68 3.3 8.68 5.5 7.2 5.5 4.65 4.55 0.62 3.3 0.62Z"/></g>
<g class="gl"><path transform="translate(400.93,434.6) scale(1.0)" d="M2.5 2.9C3.4 2.6 4 1.9 4.1 0.65V9.3"/><path transform="translate(407.43,434.6) scale(1.0)" d="M3.3 0.62C2.05 0.62 1.1 2.1 1.1 4.65S2.05 8.68 3.3 8.68 5.5 7.2 5.5 4.65 4.55 0.62 3.3 0.62Z"/><path transform="translate(414.63,428.1) scale(0.98)" d="M2.5 2.9C3.4 2.6 4 1.9 4.1 0.65V9.3"/></g>
<g class="gl"><path transform="translate(433.75,434.6) scale(1.0)" d="M2.5 2.9C3.4 2.6 4 1.9 4.1 0.65V9.3"/><path transform="translate(440.25,434.6) scale(1.0)" d="M3.3 0.62C2.05 0.62 1.1 2.1 1.1 4.65S2.05 8.68 3.3 8.68 5.5 7.2 5.5 4.65 4.55 0.62 3.3 0.62Z"/><path transform="translate(447.45,428.1) scale(0.98)" d="M0.95 3C0.95 1.35 1.95 0.62 3.1 0.62 4.4 0.62 5.3 1.5 5.3 2.7 5.3 5 0.95 5.8 0.85 8.68H5.75"/></g>
<g class="gl"><path transform="translate(466.28,434.6) scale(1.0)" d="M2.5 2.9C3.4 2.6 4 1.9 4.1 0.65V9.3"/><path transform="translate(472.78,434.6) scale(1.0)" d="M3.3 0.62C2.05 0.62 1.1 2.1 1.1 4.65S2.05 8.68 3.3 8.68 5.5 7.2 5.5 4.65 4.55 0.62 3.3 0.62Z"/><path transform="translate(479.98,428.1) scale(0.98)" d="M0.85 2.55C1.05 1.25 1.95 0.62 3.05 0.62 4.35 0.62 5.15 1.4 5.15 2.5 5.15 3.7 4.25 4.4 2.65 4.4 4.45 4.4 5.45 5.3 5.45 6.6 5.45 8 4.35 8.68 3.05 8.68 1.65 8.68 0.75 8 0.55 6.75"/></g>
<g class="gl"><path transform="translate(498.5,434.6) scale(1.0)" d="M2.5 2.9C3.4 2.6 4 1.9 4.1 0.65V9.3"/><path transform="translate(505,434.6) scale(1.0)" d="M3.3 0.62C2.05 0.62 1.1 2.1 1.1 4.65S2.05 8.68 3.3 8.68 5.5 7.2 5.5 4.65 4.55 0.62 3.3 0.62Z"/><path transform="translate(512.2,428.1) scale(0.98)" d="M4.3 9.3V0.75L0.6 6.6H5.95"/></g>
<path d="M378 422.8 378.1 349 379 404 380.7 400.8 381.7 392.7 383.4 386 384.4 372.5 385.5 364.4 386.1 355 386.8 349.2 388.2 341.1 389.5 330.4 390.8 321 392.2 314.2 393.3 307.5 396 304.1 397.3 307.5 398.2 316.9 399.6 323.6 400.3 335.8 401.3 341.1 402.3 355 403.2 368.5 404.3 375.2 405.6 388.6 407.3 402.1 409 408.8 411 414.2 414.4 417.6 419.1 420.3 423.1 421.2 426 420.4 427.6 421.8 429.4 421 431.3 421.9 432.9 420.6 434.4 421.5 436 421 437.6 421.9 439.2 420.6 441.2 422 442.5 420.4 444.2 421.4 445.7 420.8 446.9 421.8 448.9 420.8 450.8 421.9 452.1 420.4 453.8 422 455.6 420.5 457 422 459 420.4 460.6 421.9 462.2 420.9 463.3 421.5 464.6 420.9 466.2 421.9 467.9 420.7 469.6 421.6 471.2 420.5 472.7 421.5 474.7 420.5 476.1 421.7 477.8 420.6 479.1 421.4 480.4 420.5 481.7 421.7 483 420.9 484.3 421.7 485.6 421 486.8 421.5 488.4 421 489.5 421.7 491 420.5 492.2 421.7 493.7 421 495.7 421.6 497 420.7 498.2 421.8 499.7 420.9 500.9 421.9 502.2 420.4 503.8 422.1 505.2 420.8 506.6 422 508.3 420.8 508.5 421.2" fill="none" stroke="#111" stroke-width="1.5" stroke-dasharray="3 1.8" stroke-linejoin="round"/>
<path d="M377.8 422.5 378.7 421 382.8 418.3 386.8 416.2 389.5 414.2 392.2 408.8 394.9 403.5 396.9 399.4 399.6 393.4 400.9 387.3 402.7 380.6 404.3 377.2 407 376.5 409 373.8 411 370.5 413 373.8 415.1 372.5 416.4 377.9 418.4 374.5 419.8 372.5 421.8 369.8 423.1 373.8 425.2 371.8 427.2 375.2 429.2 378.6 430.8 373.1 433.2 381.8 435.5 392.1 437.1 392.9 439.5 401.5 442.6 404.7 446.6 410.2 450.5 413.4 453.7 415 457.6 417.3 461.5 419.7 467.9 419.7 472.6 421 475 421.3 477.1 422.6 478.2 421.8 479.4 422.3 480.5 421.8 482.3 422.8 483.6 421.1 485.2 422.8 487.2 421.1 488.3 422.4 490 421.1 491.2 422.4 493.2 421.7 494.7 422.4 496.4 421.2 497.7 422.7 499.6 421.2 501.2 422.8 502.7 421.5 504 422.7 505.6 421.6 506.9 422.7 508.5 422" fill="none" stroke="#111" stroke-width="1.6" stroke-linejoin="round"/>
<path d="M170 526.3H302.9V659.4" fill="none" stroke="#000" stroke-width="1.6"/>
<path d="M170 526.3V659.9" fill="none" stroke="#b0b0b0" stroke-width="1.2"/>
<path d="M170 659.4H302.9" fill="none" stroke="#111" stroke-width="1.6"/>
<path d="M164 658.2H170M166.5 652.97H170M166.5 647.74H170M166.5 642.52H170M166.5 637.29H170M164 632.06H170M166.5 626.83H170M166.5 621.6H170M166.5 616.38H170M166.5 611.15H170M164 605.92H170M166.5 600.69H170M166.5 595.46H170M166.5 590.24H170M166.5 585.01H170M164 579.78H170M166.5 574.55H170M166.5 569.32H170M166.5 564.1H170M166.5 558.87H170M164 553.64H170M166.5 548.41H170M166.5 543.18H170M166.5 537.96H170M166.5 532.73H170M164 527.5H170" stroke="#111" stroke-width="1.5"/>
<path d="M170.9 659.4v6M180.88 659.4v3.2M186.72 659.4v3.2M190.86 659.4v3.2M194.07 659.4v3.2M196.7 659.4v3.2M198.91 659.4v3.2M200.84 659.4v3.2M202.53 659.4v3.2M204.05 659.4v6M213.91 659.4v3.2M219.67 659.4v3.2M223.77 659.4v3.2M226.94 659.4v3.2M229.53 659.4v3.2M231.73 659.4v3.2M233.63 659.4v3.2M235.3 659.4v3.2M236.8 659.4v6M246.57 659.4v3.2M252.28 659.4v3.2M256.34 659.4v3.2M259.48 659.4v3.2M262.05 659.4v3.2M264.22 659.4v3.2M266.1 659.4v3.2M267.76 659.4v3.2M269.25 659.4v6M278.93 659.4v3.2M284.59 659.4v3.2M288.61 659.4v3.2M291.72 659.4v3.2M294.27 659.4v3.2M296.42 659.4v3.2M298.28 659.4v3.2M299.93 659.4v3.2M301.4 659.4v6" stroke="#111" stroke-width="1.4"/>
<g transform="translate(150.4,658.2) rotate(-90)" class="gl"><path transform="translate(-2.93,0) scale(0.955)" d="M3.3 0.62C2.05 0.62 1.1 2.1 1.1 4.65S2.05 8.68 3.3 8.68 5.5 7.2 5.5 4.65 4.55 0.62 3.3 0.62Z"/></g>
<g transform="translate(150.4,632.06) rotate(-90)" class="gl"><path transform="translate(-5.96,0) scale(0.955)" d="M5.1 0.62H1.55L1.05 4.5C1.6 3.9 2.35 3.65 3.05 3.65 4.55 3.65 5.45 4.65 5.45 6.15 5.45 7.7 4.45 8.68 2.95 8.68 1.65 8.68 0.85 8 0.55 6.9"/><path transform="translate(0.1,0) scale(0.955)" d="M3.3 0.62C2.05 0.62 1.1 2.1 1.1 4.65S2.05 8.68 3.3 8.68 5.5 7.2 5.5 4.65 4.55 0.62 3.3 0.62Z"/></g>
<g transform="translate(150.4,605.92) rotate(-90)" class="gl"><path transform="translate(-9,0) scale(0.955)" d="M2.5 2.9C3.4 2.6 4 1.9 4.1 0.65V9.3"/><path transform="translate(-2.93,0) scale(0.955)" d="M3.3 0.62C2.05 0.62 1.1 2.1 1.1 4.65S2.05 8.68 3.3 8.68 5.5 7.2 5.5 4.65 4.55 0.62 3.3 0.62Z"/><path transform="translate(3.13,0) scale(0.955)" d="M3.3 0.62C2.05 0.62 1.1 2.1 1.1 4.65S2.05 8.68 3.3 8.68 5.5 7.2 5.5 4.65 4.55 0.62 3.3 0.62Z"/></g>
<g transform="translate(150.4,579.78) rotate(-90)" class="gl"><path transform="translate(-9,0) scale(0.955)" d="M2.5 2.9C3.4 2.6 4 1.9 4.1 0.65V9.3"/><path transform="translate(-2.93,0) scale(0.955)" d="M5.1 0.62H1.55L1.05 4.5C1.6 3.9 2.35 3.65 3.05 3.65 4.55 3.65 5.45 4.65 5.45 6.15 5.45 7.7 4.45 8.68 2.95 8.68 1.65 8.68 0.85 8 0.55 6.9"/><path transform="translate(3.13,0) scale(0.955)" d="M3.3 0.62C2.05 0.62 1.1 2.1 1.1 4.65S2.05 8.68 3.3 8.68 5.5 7.2 5.5 4.65 4.55 0.62 3.3 0.62Z"/></g>
<g transform="translate(150.4,553.64) rotate(-90)" class="gl"><path transform="translate(-9,0) scale(0.955)" d="M0.95 3C0.95 1.35 1.95 0.62 3.1 0.62 4.4 0.62 5.3 1.5 5.3 2.7 5.3 5 0.95 5.8 0.85 8.68H5.75"/><path transform="translate(-2.93,0) scale(0.955)" d="M3.3 0.62C2.05 0.62 1.1 2.1 1.1 4.65S2.05 8.68 3.3 8.68 5.5 7.2 5.5 4.65 4.55 0.62 3.3 0.62Z"/><path transform="translate(3.13,0) scale(0.955)" d="M3.3 0.62C2.05 0.62 1.1 2.1 1.1 4.65S2.05 8.68 3.3 8.68 5.5 7.2 5.5 4.65 4.55 0.62 3.3 0.62Z"/></g>
<g transform="translate(150.4,527.5) rotate(-90)" class="gl"><path transform="translate(-9,0) scale(0.955)" d="M0.95 3C0.95 1.35 1.95 0.62 3.1 0.62 4.4 0.62 5.3 1.5 5.3 2.7 5.3 5 0.95 5.8 0.85 8.68H5.75"/><path transform="translate(-2.93,0) scale(0.955)" d="M5.1 0.62H1.55L1.05 4.5C1.6 3.9 2.35 3.65 3.05 3.65 4.55 3.65 5.45 4.65 5.45 6.15 5.45 7.7 4.45 8.68 2.95 8.68 1.65 8.68 0.85 8 0.55 6.9"/><path transform="translate(3.13,0) scale(0.955)" d="M3.3 0.62C2.05 0.62 1.1 2.1 1.1 4.65S2.05 8.68 3.3 8.68 5.5 7.2 5.5 4.65 4.55 0.62 3.3 0.62Z"/></g>
<g class="gl"><path transform="translate(160.3,669.8) scale(1.0)" d="M2.5 2.9C3.4 2.6 4 1.9 4.1 0.65V9.3"/><path transform="translate(166.8,669.8) scale(1.0)" d="M3.3 0.62C2.05 0.62 1.1 2.1 1.1 4.65S2.05 8.68 3.3 8.68 5.5 7.2 5.5 4.65 4.55 0.62 3.3 0.62Z"/><path transform="translate(174,663.3) scale(0.98)" d="M3.3 0.62C2.05 0.62 1.1 2.1 1.1 4.65S2.05 8.68 3.3 8.68 5.5 7.2 5.5 4.65 4.55 0.62 3.3 0.62Z"/></g>
<g class="gl"><path transform="translate(193.45,669.8) scale(1.0)" d="M2.5 2.9C3.4 2.6 4 1.9 4.1 0.65V9.3"/><path transform="translate(199.95,669.8) scale(1.0)" d="M3.3 0.62C2.05 0.62 1.1 2.1 1.1 4.65S2.05 8.68 3.3 8.68 5.5 7.2 5.5 4.65 4.55 0.62 3.3 0.62Z"/><path transform="translate(207.15,663.3) scale(0.98)" d="M2.5 2.9C3.4 2.6 4 1.9 4.1 0.65V9.3"/></g>
<g class="gl"><path transform="translate(226.2,669.8) scale(1.0)" d="M2.5 2.9C3.4 2.6 4 1.9 4.1 0.65V9.3"/><path transform="translate(232.7,669.8) scale(1.0)" d="M3.3 0.62C2.05 0.62 1.1 2.1 1.1 4.65S2.05 8.68 3.3 8.68 5.5 7.2 5.5 4.65 4.55 0.62 3.3 0.62Z"/><path transform="translate(239.9,663.3) scale(0.98)" d="M0.95 3C0.95 1.35 1.95 0.62 3.1 0.62 4.4 0.62 5.3 1.5 5.3 2.7 5.3 5 0.95 5.8 0.85 8.68H5.75"/></g>
<g class="gl"><path transform="translate(258.65,669.8) scale(1.0)" d="M2.5 2.9C3.4 2.6 4 1.9 4.1 0.65V9.3"/><path transform="translate(265.15,669.8) scale(1.0)" d="M3.3 0.62C2.05 0.62 1.1 2.1 1.1 4.65S2.05 8.68 3.3 8.68 5.5 7.2 5.5 4.65 4.55 0.62 3.3 0.62Z"/><path transform="translate(272.35,663.3) scale(0.98)" d="M0.85 2.55C1.05 1.25 1.95 0.62 3.05 0.62 4.35 0.62 5.15 1.4 5.15 2.5 5.15 3.7 4.25 4.4 2.65 4.4 4.45 4.4 5.45 5.3 5.45 6.6 5.45 8 4.35 8.68 3.05 8.68 1.65 8.68 0.75 8 0.55 6.75"/></g>
<g class="gl"><path transform="translate(290.8,669.8) scale(1.0)" d="M2.5 2.9C3.4 2.6 4 1.9 4.1 0.65V9.3"/><path transform="translate(297.3,669.8) scale(1.0)" d="M3.3 0.62C2.05 0.62 1.1 2.1 1.1 4.65S2.05 8.68 3.3 8.68 5.5 7.2 5.5 4.65 4.55 0.62 3.3 0.62Z"/><path transform="translate(304.5,663.3) scale(0.98)" d="M4.3 9.3V0.75L0.6 6.6H5.95"/></g>
<path d="M170.4 658 170.4 640.8 171.2 651 171.7 650.2 173.7 644.8 175.8 638.1 177.8 631.3 179.1 624.6 180.1 615.2 181.2 605.8 181.7 597.7 182.3 589.6 183.2 582.7 184 573.4 185.2 567.7 185.8 561.9 186.9 560.5 189.8 561.9 191.5 564.2 192.5 570 193.4 578 194.5 585 195.5 592 196 598 196.6 606 196.8 619.6 198.7 629.2 200 636 201.4 643 203 649 205.5 652.5 209 654 218 655 224 656 228 655.6 229.5 656.8 230.8 655.6 231.9 656.8 233.7 655.6 235 656.7 236.9 655.7 238.9 657.1 240.4 655.5 242.2 656.7 243.7 656 245.2 657.2 246.4 655.7 247.7 656.6 249.4 655.9 250.6 656.6 252.3 655.7 253.4 656.7 255.5 655.9 257.1 656.8 259 655.7 260.9 656.9 262.2 656 263.4 657.1 264.6 656.1 266.7 656.6 268.6 656 270.2 656.7 272.1 655.7 273.9 657 275.8 655.9 277.5 656.8 278.7 655.5 280.4 657.1 281.8 655.7 283.3 657 284.5 655.9 286.1 656.6 287.7 655.6 289.3 657 291 656 292.4 657.2 293.9 655.8 295.1 656.7 296.4 655.4 298.2 657.1 300.2 655.7 301.5 656.3" fill="none" stroke="#111" stroke-width="1.5" stroke-dasharray="3 1.8" stroke-linejoin="round"/>
<path d="M170.6 657.5 171.7 652 173.7 646 175.8 639 177.8 632 179.3 624.6 180.3 615.2 181.4 605.8 182.4 597 183.5 590 184.6 586.1 185.8 574.6 186.9 568.3 189.2 563.6 191 564.8 192.7 572.3 193.6 579.2 194.8 585 195.9 591.9 196.7 600 197.2 605.8 199.6 619.6 200.6 629.2 202 637.9 203.5 643.7 205.4 648.5 207.3 652.3 210.2 654.2 213.1 653.8 221.7 654.7 222.7 656.2 230.4 657.1 237 657.1 237 656.4 238.5 657.9 240.5 656.1 242.1 657.7 243.6 656.1 245.6 657.4 247.6 656.7 248.8 657.7 250.2 656.4 252 657.2 253.8 656.6 255.3 657.4 257.2 656.3 258.6 657.3 260 656.5 261.2 657.3 263 656.3 265.1 657.9 267 656.5 268.3 657.4 269.9 656.4 271.5 657.5 273.5 656.6 275 657.8 276.9 656.6 278.3 657.8 279.4 656.7 281 657.6 282.3 656.8 283.6 657.7 285.2 656.1 287.1 657.9 288.2 656.7 289.4 657.5 290.8 656.8 292.4 657.3 293.9 656.6 295.8 657.5 297.1 656.8 298.7 657.6 300.4 656.2 301.5 657" fill="none" stroke="#111" stroke-width="1.6" stroke-linejoin="round"/>
<path d="M377.8 527.4H511V660.6" fill="none" stroke="#000" stroke-width="1.6"/>
<path d="M377.8 527.4V661.1" fill="none" stroke="#555" stroke-width="1.2"/>
<path d="M377.8 660.6H511" fill="none" stroke="#111" stroke-width="1.6"/>
<path d="M371.8 659.6H377.8M374.3 654.36H377.8M374.3 649.12H377.8M374.3 643.88H377.8M374.3 638.64H377.8M371.8 633.4H377.8M374.3 628.16H377.8M374.3 622.92H377.8M374.3 617.68H377.8M374.3 612.44H377.8M371.8 607.2H377.8M374.3 601.96H377.8M374.3 596.72H377.8M374.3 591.48H377.8M374.3 586.24H377.8M371.8 581H377.8M374.3 575.76H377.8M374.3 570.52H377.8M374.3 565.28H377.8M374.3 560.04H377.8M371.8 554.8H377.8M374.3 549.56H377.8M374.3 544.32H377.8M374.3 539.08H377.8M374.3 533.84H377.8M371.8 528.6H377.8" stroke="#111" stroke-width="1.5"/>
<path d="M378.7 660.6v6M388.71 660.6v3.2M394.56 660.6v3.2M398.72 660.6v3.2M401.94 660.6v3.2M404.57 660.6v3.2M406.8 660.6v3.2M408.73 660.6v3.2M410.43 660.6v3.2M411.95 660.6v6M421.84 660.6v3.2M427.62 660.6v3.2M431.73 660.6v3.2M434.91 660.6v3.2M437.51 660.6v3.2M439.71 660.6v3.2M441.62 660.6v3.2M443.3 660.6v3.2M444.8 660.6v6M454.6 660.6v3.2M460.33 660.6v3.2M464.4 660.6v3.2M467.55 660.6v3.2M470.13 660.6v3.2M472.31 660.6v3.2M474.2 660.6v3.2M475.86 660.6v3.2M477.35 660.6v6M487.06 660.6v3.2M492.74 660.6v3.2M496.77 660.6v3.2M499.89 660.6v3.2M502.45 660.6v3.2M504.6 660.6v3.2M506.47 660.6v3.2M508.12 660.6v3.2M509.6 660.6v6" stroke="#111" stroke-width="1.4"/>
<g transform="translate(358.2,659.6) rotate(-90)" class="gl"><path transform="translate(-2.93,0) scale(0.955)" d="M3.3 0.62C2.05 0.62 1.1 2.1 1.1 4.65S2.05 8.68 3.3 8.68 5.5 7.2 5.5 4.65 4.55 0.62 3.3 0.62Z"/></g>
<g transform="translate(358.2,633.4) rotate(-90)" class="gl"><path transform="translate(-5.96,0) scale(0.955)" d="M5.1 0.62H1.55L1.05 4.5C1.6 3.9 2.35 3.65 3.05 3.65 4.55 3.65 5.45 4.65 5.45 6.15 5.45 7.7 4.45 8.68 2.95 8.68 1.65 8.68 0.85 8 0.55 6.9"/><path transform="translate(0.1,0) scale(0.955)" d="M3.3 0.62C2.05 0.62 1.1 2.1 1.1 4.65S2.05 8.68 3.3 8.68 5.5 7.2 5.5 4.65 4.55 0.62 3.3 0.62Z"/></g>
<g transform="translate(358.2,607.2) rotate(-90)" class="gl"><path transform="translate(-9,0) scale(0.955)" d="M2.5 2.9C3.4 2.6 4 1.9 4.1 0.65V9.3"/><path transform="translate(-2.93,0) scale(0.955)" d="M3.3 0.62C2.05 0.62 1.1 2.1 1.1 4.65S2.05 8.68 3.3 8.68 5.5 7.2 5.5 4.65 4.55 0.62 3.3 0.62Z"/><path transform="translate(3.13,0) scale(0.955)" d="M3.3 0.62C2.05 0.62 1.1 2.1 1.1 4.65S2.05 8.68 3.3 8.68 5.5 7.2 5.5 4.65 4.55 0.62 3.3 0.62Z"/></g>
<g transform="translate(358.2,581) rotate(-90)" class="gl"><path transform="translate(-9,0) scale(0.955)" d="M2.5 2.9C3.4 2.6 4 1.9 4.1 0.65V9.3"/><path transform="translate(-2.93,0) scale(0.955)" d="M5.1 0.62H1.55L1.05 4.5C1.6 3.9 2.35 3.65 3.05 3.65 4.55 3.65 5.45 4.65 5.45 6.15 5.45 7.7 4.45 8.68 2.95 8.68 1.65 8.68 0.85 8 0.55 6.9"/><path transform="translate(3.13,0) scale(0.955)" d="M3.3 0.62C2.05 0.62 1.1 2.1 1.1 4.65S2.05 8.68 3.3 8.68 5.5 7.2 5.5 4.65 4.55 0.62 3.3 0.62Z"/></g>
<g transform="translate(358.2,554.8) rotate(-90)" class="gl"><path transform="translate(-9,0) scale(0.955)" d="M0.95 3C0.95 1.35 1.95 0.62 3.1 0.62 4.4 0.62 5.3 1.5 5.3 2.7 5.3 5 0.95 5.8 0.85 8.68H5.75"/><path transform="translate(-2.93,0) scale(0.955)" d="M3.3 0.62C2.05 0.62 1.1 2.1 1.1 4.65S2.05 8.68 3.3 8.68 5.5 7.2 5.5 4.65 4.55 0.62 3.3 0.62Z"/><path transform="translate(3.13,0) scale(0.955)" d="M3.3 0.62C2.05 0.62 1.1 2.1 1.1 4.65S2.05 8.68 3.3 8.68 5.5 7.2 5.5 4.65 4.55 0.62 3.3 0.62Z"/></g>
<g transform="translate(358.2,528.6) rotate(-90)" class="gl"><path transform="translate(-9,0) scale(0.955)" d="M0.95 3C0.95 1.35 1.95 0.62 3.1 0.62 4.4 0.62 5.3 1.5 5.3 2.7 5.3 5 0.95 5.8 0.85 8.68H5.75"/><path transform="translate(-2.93,0) scale(0.955)" d="M5.1 0.62H1.55L1.05 4.5C1.6 3.9 2.35 3.65 3.05 3.65 4.55 3.65 5.45 4.65 5.45 6.15 5.45 7.7 4.45 8.68 2.95 8.68 1.65 8.68 0.85 8 0.55 6.9"/><path transform="translate(3.13,0) scale(0.955)" d="M3.3 0.62C2.05 0.62 1.1 2.1 1.1 4.65S2.05 8.68 3.3 8.68 5.5 7.2 5.5 4.65 4.55 0.62 3.3 0.62Z"/></g>
<g class="gl"><path transform="translate(368.1,671) scale(1.0)" d="M2.5 2.9C3.4 2.6 4 1.9 4.1 0.65V9.3"/><path transform="translate(374.6,671) scale(1.0)" d="M3.3 0.62C2.05 0.62 1.1 2.1 1.1 4.65S2.05 8.68 3.3 8.68 5.5 7.2 5.5 4.65 4.55 0.62 3.3 0.62Z"/><path transform="translate(381.8,664.5) scale(0.98)" d="M3.3 0.62C2.05 0.62 1.1 2.1 1.1 4.65S2.05 8.68 3.3 8.68 5.5 7.2 5.5 4.65 4.55 0.62 3.3 0.62Z"/></g>
<g class="gl"><path transform="translate(401.35,671) scale(1.0)" d="M2.5 2.9C3.4 2.6 4 1.9 4.1 0.65V9.3"/><path transform="translate(407.85,671) scale(1.0)" d="M3.3 0.62C2.05 0.62 1.1 2.1 1.1 4.65S2.05 8.68 3.3 8.68 5.5 7.2 5.5 4.65 4.55 0.62 3.3 0.62Z"/><path transform="translate(415.05,664.5) scale(0.98)" d="M2.5 2.9C3.4 2.6 4 1.9 4.1 0.65V9.3"/></g>
<g class="gl"><path transform="translate(434.2,671) scale(1.0)" d="M2.5 2.9C3.4 2.6 4 1.9 4.1 0.65V9.3"/><path transform="translate(440.7,671) scale(1.0)" d="M3.3 0.62C2.05 0.62 1.1 2.1 1.1 4.65S2.05 8.68 3.3 8.68 5.5 7.2 5.5 4.65 4.55 0.62 3.3 0.62Z"/><path transform="translate(447.9,664.5) scale(0.98)" d="M0.95 3C0.95 1.35 1.95 0.62 3.1 0.62 4.4 0.62 5.3 1.5 5.3 2.7 5.3 5 0.95 5.8 0.85 8.68H5.75"/></g>
<g class="gl"><path transform="translate(466.75,671) scale(1.0)" d="M2.5 2.9C3.4 2.6 4 1.9 4.1 0.65V9.3"/><path transform="translate(473.25,671) scale(1.0)" d="M3.3 0.62C2.05 0.62 1.1 2.1 1.1 4.65S2.05 8.68 3.3 8.68 5.5 7.2 5.5 4.65 4.55 0.62 3.3 0.62Z"/><path transform="translate(480.45,664.5) scale(0.98)" d="M0.85 2.55C1.05 1.25 1.95 0.62 3.05 0.62 4.35 0.62 5.15 1.4 5.15 2.5 5.15 3.7 4.25 4.4 2.65 4.4 4.45 4.4 5.45 5.3 5.45 6.6 5.45 8 4.35 8.68 3.05 8.68 1.65 8.68 0.75 8 0.55 6.75"/></g>
<g class="gl"><path transform="translate(499,671) scale(1.0)" d="M2.5 2.9C3.4 2.6 4 1.9 4.1 0.65V9.3"/><path transform="translate(505.5,671) scale(1.0)" d="M3.3 0.62C2.05 0.62 1.1 2.1 1.1 4.65S2.05 8.68 3.3 8.68 5.5 7.2 5.5 4.65 4.55 0.62 3.3 0.62Z"/><path transform="translate(512.7,664.5) scale(0.98)" d="M4.3 9.3V0.75L0.6 6.6H5.95"/></g>
<path d="M378 659.5 378 635.4 378.7 654.2 380.1 648.8 381.2 640.8 382.5 634 384.1 626 385.5 615.2 386.8 605.8 387.9 595 387.8 588.2 388.5 585.6 389.1 581 390.4 577.1 390.4 560.8 391.7 556 392.4 550 393.8 549.4 395.3 550 396 555.5 396.3 560.2 397.6 562.8 398.9 566 398.9 584.3 400.2 587.5 400.3 595 400.9 608.5 402.3 619.2 403.2 630 404.3 640.8 406.3 647.5 408.3 652.9 411 656.9 415.1 658.2 418 658.4 419.3 659.5 421.1 658.2 423 659.4 424.4 658.5 425.6 659.5 427.6 658 429.1 659.5 431.1 658 432.8 659.3 434.4 658.5 435.7 659.5 437.8 658.2 439.3 659.2 440.9 658 442.4 659.7 443.7 658.4 445.3 659.3 447.3 658 449.3 659.4 450.4 658.2 452.1 659.3 453.5 658.1 455.5 659.1 457.2 658.3 458.8 659.6 460.9 658.1 462.2 659.6 463.5 658.3 465.4 659.2 466.8 657.9 468.8 659.2 470.3 658.4 471.5 659.2 473.6 658.5 474.9 659.1 476.1 658.2 478 659.6 479.7 658 480.8 659.2 482.9 658.6 484.2 659.3 485.6 658.2 486.8 659.2 488.8 658.5 490.8 659.1 492.9 658.1 494.6 659.1 495.8 658.1 497.1 659.1 499 658 500.2 659.7 501.8 658.3 503 659.3 505.1 658.4 506.3 659.1 507.6 658.4 509 658.8" fill="none" stroke="#111" stroke-width="1.5" stroke-dasharray="3 1.8" stroke-linejoin="round"/>
<path d="M378 656.2 380.1 657.6 382.1 656.2 385.5 653.5 388.8 649.5 390.8 643.5 392.2 639.4 394.2 636.7 396.2 631.3 398.9 624.6 401.6 617.2 404.3 616.5 406.3 614.5 407.7 611.2 409.7 613.8 412.4 619.2 415.1 623.3 417.8 628.6 419.8 634.7 420.5 628 423.1 629.3 425.2 631.3 426.5 634.7 428.5 632.7 431 631.3 432.4 637.6 434.7 641.5 437.9 647 441.8 651 445.8 654.1 452.1 655.7 458.4 655.7 463.1 656.5 469.4 657.3 473.4 655.7 475.7 657.3 480 658.3 485.2 658.9 488 658.2 492 659.3 496.2 658.7 500 659.4 504 658.6 509 659.2" fill="none" stroke="#111" stroke-width="1.6" stroke-linejoin="round"/>
</svg>
</body></html>
